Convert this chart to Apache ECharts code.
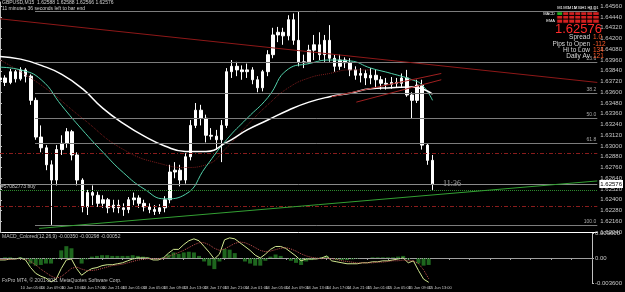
<!DOCTYPE html>
<html>
<head>
<meta charset="utf-8">
<script src="https://cdn.jsdelivr.net/npm/echarts@6/dist/echarts.min.js"></script>
<style>
html,body{margin:0;padding:0;background:#000;overflow:hidden}
#chart{width:625px;height:292px}
</style>
</head>
<body>
<div id="chart"></div>
<script>
// ---------- data ----------
const tickLabels = ['10 Jun 2011','10 Jun 05:00','10 Jun 09:00','10 Jun 13:00','10 Jun 17:00','10 Jun 21:00',
  '13 Jun 01:00','13 Jun 05:00','13 Jun 09:00','13 Jun 13:00','13 Jun 17:00','13 Jun 21:00',
  '14 Jun 01:00','14 Jun 05:00','14 Jun 09:00','14 Jun 13:00','14 Jun 17:00','14 Jun 21:00',
  '15 Jun 01:00','15 Jun 05:00','15 Jun 09:00','15 Jun 13:00'];

// hourly bars (GBPUSD)
const barOpen = [1.6374,1.6376,1.6371,1.6383,1.6375,1.6385,1.6378,1.6351,1.6310,1.6298,
  1.6279,1.6262,1.6296,1.6303,1.6316,1.6290,1.6262,1.6232,1.6248,1.6245,
  1.6236,1.6240,1.6231,1.6234,1.6231,1.6229,1.6240,1.6242,1.6236,1.6232,
  1.6229,1.6227,1.6231,1.6240,1.6271,1.6273,1.6262,1.6288,1.6323,1.6340,
  1.6331,1.6312,1.6311,1.6307,1.6323,1.6383,1.6389,1.6385,1.6383,1.6385,
  1.6374,1.6365,1.6383,1.6402,1.6424,1.6427,1.6423,1.6441,1.6418,1.6394,
  1.6394,1.6407,1.6413,1.6402,1.6418,1.6398,1.6389,1.6396,1.6393,1.6385,
  1.6379,1.6381,1.6376,1.6379,1.6374,1.6370,1.6369,1.6371,1.6370,1.6376,
  1.6357,1.6351,1.6368,1.6301,1.6284];
const barClose = [1.6376,1.6371,1.6383,1.6375,1.6385,1.6378,1.6351,1.6310,1.6298,1.6279,
  1.6262,1.6296,1.6303,1.6316,1.6290,1.6262,1.6232,1.6248,1.6245,1.6236,
  1.6240,1.6231,1.6234,1.6231,1.6229,1.6240,1.6242,1.6236,1.6232,1.6229,
  1.6227,1.6231,1.6240,1.6271,1.6273,1.6262,1.6288,1.6323,1.6340,1.6331,
  1.6312,1.6311,1.6307,1.6323,1.6383,1.6389,1.6385,1.6383,1.6385,1.6374,
  1.6365,1.6383,1.6402,1.6424,1.6427,1.6423,1.6441,1.6418,1.6394,1.6393,
  1.6407,1.6413,1.6402,1.6418,1.6398,1.6389,1.6396,1.6393,1.6385,1.6379,
  1.6381,1.6376,1.6379,1.6374,1.6370,1.6369,1.6371,1.6370,1.6376,1.6357,
  1.6351,1.6368,1.6301,1.6284,1.62576];
const barLow = [1.6369,1.6367,1.6369,1.6371,1.6373,1.6371,1.6346,1.6307,1.6293,1.6273,
  1.6212,1.6256,1.6290,1.6298,1.6284,1.6256,1.6226,1.6223,1.6234,1.6232,
  1.6231,1.6225,1.6226,1.6225,1.6222,1.6225,1.6234,1.6231,1.6227,1.6225,
  1.6223,1.6224,1.6226,1.6236,1.6264,1.6255,1.6258,1.6284,1.6320,1.6323,
  1.6304,1.6307,1.6296,1.6282,1.6320,1.6376,1.6378,1.6374,1.6376,1.6369,
  1.6360,1.6361,1.6378,1.6398,1.6416,1.6413,1.6418,1.6413,1.6389,1.6387,
  1.6392,1.6396,1.6396,1.6394,1.6394,1.6383,1.6385,1.6387,1.6378,1.6374,
  1.6371,1.6368,1.6369,1.6365,1.6363,1.6363,1.6364,1.6365,1.6366,1.6355,
  1.6331,1.6348,1.6296,1.6279,1.6251];
const barHigh = [1.6379,1.6379,1.6386,1.6385,1.6388,1.6387,1.6380,1.6354,1.6323,1.6301,
  1.6284,1.6301,1.6312,1.6320,1.6318,1.6293,1.6264,1.6251,1.6256,1.6249,
  1.6245,1.6242,1.6240,1.6240,1.6236,1.6243,1.6248,1.6245,1.6240,1.6236,
  1.6234,1.6235,1.6244,1.6279,1.6282,1.6279,1.6292,1.6329,1.6348,1.6346,
  1.6335,1.6320,1.6318,1.6329,1.6387,1.6396,1.6394,1.6390,1.6392,1.6388,
  1.6378,1.6385,1.6407,1.6432,1.6433,1.6432,1.6446,1.6448,1.6450,1.6402,
  1.6413,1.6424,1.6427,1.6424,1.6435,1.6402,1.6402,1.6399,1.6398,1.6389,
  1.6387,1.6385,1.6387,1.6385,1.6378,1.6376,1.6377,1.6376,1.6381,1.6385,
  1.6360,1.6374,1.6374,1.6303,1.6290];

// moving averages (hour, price)
const whiteHours = [0,4,8,12,16,20,24,28,32,36,40,44,48,52,56,60,64,68,72,76,80,84];
const whiteMA = [1.6400,1.6397,1.6390,1.6380,1.6364,1.6342,1.6325,1.6311,1.6300,1.6294,1.6294,
  1.6304,1.6318,1.6329,1.6340,1.6349,1.6355,1.6359,1.6364,1.6365,1.6366,1.6358];
const tealHours = [0,4,8,12,16,20,24,28,32,36,40,44,48,52,56,60,64,68,72,76,80,82,84];
const tealMA = [1.6388,1.6385,1.6374,1.6345,1.6318,1.6293,1.6270,1.6252,1.6241,1.6246,1.6277,
  1.6307,1.6331,1.6354,1.6386,1.6392,1.6396,1.6395,1.6387,1.6381,1.6374,1.6368,1.6351];
const darkHours = [0,8,16,24,32,36,40,44,48,52,56,60,64,68,72];
const darkMA = [1.6396,1.6368,1.6331,1.6296,1.6279,1.6276,1.6279,1.6298,1.6323,1.6346,1.6365,
  1.6376,1.6381,1.6385,1.6385];

// drawn objects: anchors as [hour, price]
const resistA = [[24.6,1.6463],[116,1.6418]];
const resistB = [[0,1.6442],[116,1.6371]];
const paleDotted = [[11,1.6394],[81.5,1.6463]];
const redDotted = [[6.5,1.6212],[38.3,1.6463]];
const greenTrend = [[7.6,1.6208],[116,1.6261]];
const channel1 = [[64.4,1.6355],[85.7,1.6381]];
const channel2 = [[69.2,1.6349],[85.7,1.6374]];
const fibHigh = 1.6450, fibLow = 1.6212, fibStartHour = 6.8;
const fibRatios = [0, 23.6, 38.2, 50.0, 61.8, 100.0];
const stopLevels = [1.6292, 1.6233];
const buyLevel = 1.6251;
const lastPrice = 1.62576;

// MACD window
const macdMain = [-0.00028,-0.00028,-0.00014,-0.00014,0,-0.00028,-0.00138,-0.00221,-0.00262,-0.00290,
  -0.00345,-0.00304,-0.00152,-0.00028,-0.00014,-0.00152,-0.00248,-0.00193,-0.00152,-0.00138,
  -0.00110,-0.00097,-0.00097,-0.00083,-0.00069,-0.00041,-0.00014,0,0,0,
  -0.00028,-0.00028,0,0.00069,0.00124,0.00124,0.00193,0.00248,0.00276,0.00248,
  0.00166,0.00083,-0.00014,0.00055,0.00262,0.00290,0.00276,0.00221,0.00166,0.00110,
  0.00041,0,0.00055,0.00124,0.00166,0.00166,0.00138,0.00083,0.00028,-0.00041,
  -0.00014,-0.00014,-0.00014,0,0.00028,-0.00041,-0.00055,-0.00069,-0.00083,-0.00083,
  -0.00083,-0.00069,-0.00069,-0.00055,-0.00055,-0.00041,-0.00041,-0.00028,-0.00014,0,
  -0.00069,-0.00041,-0.00179,-0.00304,-0.00350];
const macdSignal = [-0.0002,-0.0002,-0.0002,-0.0001,-0.0001,-0.0001,-0.0005,-0.0010,-0.0016,-0.0021,
  -0.0026,-0.0029,-0.0027,-0.0021,-0.0015,-0.0013,-0.0016,-0.0018,-0.0018,-0.0017,
  -0.0015,-0.0013,-0.0011,-0.0010,-0.0009,-0.0007,-0.0005,-0.0003,-0.0002,-0.0001,
  -0.0001,-0.0001,-0.0001,0.0002,0.0005,0.0008,0.0011,0.0015,0.0019,0.0022,
  0.0022,0.0019,0.0014,0.0011,0.0013,0.0017,0.0021,0.0023,0.0022,0.0019,
  0.0015,0.0011,0.0009,0.0010,0.0012,0.0014,0.0015,0.0013,0.0010,0.0006,
  0.0003,0.0001,0,-0.0001,0,-0.0001,-0.0002,-0.0004,-0.0005,-0.0006,
  -0.0007,-0.0007,-0.0007,-0.0007,-0.0006,-0.0006,-0.0005,-0.0004,-0.0004,-0.0003,
  -0.0004,-0.0004,-0.0008,-0.0017,-0.00298];
const macdHist = [0,0.0001,0.0001,0,0.0001,-0.0001,-0.0008,-0.0011,-0.0010,-0.0008,
  -0.0008,-0.0001,0.0011,0.0017,0.0014,0,-0.0008,-0.0002,0.0002,0.0003,
  0.0004,0.0004,0.0003,0.0003,0.0003,0.0003,0.0004,0.0003,0.0002,0.0001,
  -0.0001,-0.0001,0.0001,0.0005,0.0008,0.0006,0.0008,0.0009,0.0008,0.0003,
  -0.0005,-0.0011,-0.0016,-0.0005,0.0013,0.0012,0.0007,0,-0.0005,-0.0008,
  -0.0011,-0.0011,-0.0004,0.0002,0.0005,0.0003,0,-0.0004,-0.0007,-0.0010,
  -0.0005,-0.0003,-0.0001,0.0001,0.0003,0,-0.0003,-0.0003,-0.0003,-0.0002,
  -0.0001,0,0,0.0001,0.0001,0.0001,0.0001,0.0001,0.0002,0.0003,
  -0.0002,0,-0.0008,-0.0011,-0.0010];

// info panel
const panelCols = ['M1','M5','M15','M30','H1','H4','D1'];
const panelRows = ['MACD','STR','EMA'];
const panelState = [[1,0,0,0,0,0,0],[0,0,0,0,0,0,0],[0,0,0,0,0,0,0]];
const infoLabels = ['Spread','Pips to Open','Hi to Low','Daily Av'];
const infoValues = ['1.0','-112','134','121'];
const headerText = 'GBPUSD,M15  1.62588 1.62588 1.62566 1.62576';
const timerText = '11 minutes 36 seconds left to bar end';
const macdTitle = 'MACD_Colored(12,26,9) -0.00350 -0.00298 -0.00052';
const copyright = 'FxPro MT4, \u00A9 2001-2011 MetaQuotes Software Corp.';
const orderLabel = '#57082773 buy';
const barTimer = '11:36';

// ---------- build chart ----------
const FONT = 'Liberation Sans';
const nCats = 117;
const cats = Array.from({length: nCats}, (_, i) => 'h' + i);
const candles = barOpen.map((o, i) => [o, barClose[i], barLow[i], barHigh[i]]);
const pairs = (xs, ys) => xs.map((x, i) => [x, ys[i]]);
const fibLevels = fibRatios.map(r => fibHigh - r / 100 * (fibHigh - fibLow));
const heatData = [];
panelState.forEach((row, r) => row.forEach((v, c) => heatData.push([c, r, v])));

function txt(text, pos, size, color, extra) {
  return Object.assign({text: text, padding: 0, itemGap: 0,
    textStyle: {fontSize: size, color: color, fontWeight: 'normal', fontFamily: FONT}}, pos, extra || {});
}
function seg(a, style) {
  return [{coord: a[0], lineStyle: style}, {coord: a[1]}];
}

const titles = [
  txt(headerText, {left: 2, top: 0}, 5, '#d0d0d0'),
  txt(timerText, {left: 2, top: 6}, 5, '#d0d0d0'),
  txt(lastPrice.toFixed(5), {left: 555, top: 23}, 13, '#ff2a2a'),
  txt(macdTitle, {left: 2, top: 234}, 5, '#c0c0c0'),
  txt(copyright, {left: 2, top: 278}, 5, '#c0c0c0')
];
infoLabels.forEach((t, i) => {
  titles.push(txt(t, {right: 35, top: 34 + i * 6.3}, 6.5, '#d8d8d8'));
  titles.push(txt(infoValues[i], {left: 593, top: 34 + i * 6.3}, 6.5, '#ff5a28'));
});

const markData = [];
fibLevels.forEach((lv, i) => {
  markData.push([{coord: [fibStartHour, lv], lineStyle: {color: '#7c7c7c', width: 1, type: 'solid'},
    label: {show: true, position: 'insideEndTop', formatter: fibRatios[i].toFixed(1), fontSize: 5, color: '#a8a8a8', distance: 1}},
    {coord: [116, lv]}]);
});
stopLevels.forEach(lv => markData.push({yAxis: lv, lineStyle: {color: '#8a1c1c', width: 1, type: [4, 2, 1, 2]}, label: {show: false}}));
markData.push({yAxis: buyLevel, lineStyle: {color: '#2e8a2e', width: 1, type: 'dotted'},
  label: {show: true, position: 'insideStartTop', formatter: orderLabel, fontSize: 5, color: '#c8c8c8', distance: 1}});
markData.push({yAxis: lastPrice, lineStyle: {color: '#8a8a8a', width: 1, type: 'solid'},
  label: {show: true, position: 'end', formatter: lastPrice.toFixed(5), backgroundColor: '#ffffff', color: '#000', fontSize: 6, padding: [1, 1], distance: 2}});
markData.push(seg(resistA, {color: '#8e1818', width: 1, type: 'solid'}));
markData.push(seg(resistB, {color: '#8e1818', width: 1, type: 'solid'}));
markData.push(seg(paleDotted, {color: '#8c8c64', width: 1, type: 'dotted'}));
markData.push(seg(redDotted, {color: '#8e2020', width: 1, type: 'dotted'}));
markData.push(seg(greenTrend, {color: '#33a033', width: 1, type: 'solid'}));
markData.push(seg(channel1, {color: '#a02020', width: 1, type: 'solid'}));
markData.push(seg(channel2, {color: '#a02020', width: 1, type: 'solid'}));

const option = {
  backgroundColor: '#000',
  animation: false,
  title: titles,
  grid: [
    {left: 0, top: 2, width: 612, height: 230},
    {left: 0, top: 233, width: 612, height: 50},
    {left: 557, top: 12, width: 42, height: 11}
  ],
  xAxis: [
    {type: 'category', gridIndex: 0, data: cats, boundaryGap: false,
      axisLine: {lineStyle: {color: '#ffffff', width: 1}}, axisTick: {show: false}, axisLabel: {show: false}, splitLine: {show: false}},
    {type: 'value', gridIndex: 0, min: 0, max: 116, show: false},
    {type: 'category', gridIndex: 1, data: cats, boundaryGap: false,
      axisLine: {lineStyle: {color: '#a0a0a0'}},
      axisTick: {show: true, interval: 3, length: 2, lineStyle: {color: '#a0a0a0'}},
      axisLabel: {interval: 3, fontSize: 4, color: '#c8c8c8', align: 'left', margin: 3, fontFamily: FONT,
        formatter: (v, i) => tickLabels[i / 4] || ''},
      splitLine: {show: false}},
    {type: 'category', gridIndex: 2, data: panelCols, position: 'top',
      axisLine: {show: false}, axisTick: {show: false}, axisLabel: {fontSize: 4, color: '#ffffff', margin: 2, interval: 0, fontFamily: FONT}}
  ],
  yAxis: [
    {type: 'value', gridIndex: 0, position: 'right', min: 1.6204, max: 1.64608, interval: 0.0012,
      axisLine: {show: true, lineStyle: {color: '#c0c0c0'}}, axisTick: {show: true, length: 2, lineStyle: {color: '#c0c0c0'}},
      axisLabel: {fontSize: 6, color: '#c8c8c8', margin: 3, fontFamily: FONT, formatter: v => v.toFixed(5)},
      splitLine: {show: false}},
    {type: 'value', gridIndex: 1, position: 'right', min: -0.0036, max: 0.0036, interval: 0.0036,
      axisLine: {show: true, lineStyle: {color: '#c0c0c0'}}, axisTick: {show: true, length: 2, lineStyle: {color: '#c0c0c0'}},
      axisLabel: {fontSize: 6, color: '#c8c8c8', margin: 3, fontFamily: FONT, formatter: v => v === 0 ? '0.00' : v.toFixed(6)},
      splitLine: {show: false}},
    {type: 'category', gridIndex: 2, data: panelRows, inverse: true,
      axisLine: {show: false}, axisTick: {show: false}, axisLabel: {fontSize: 4, color: '#ffffff', margin: 2, fontFamily: FONT}}
  ],
  visualMap: {show: false, type: 'piecewise', seriesIndex: 8,
    pieces: [{value: 0, color: '#d42020'}, {value: 1, color: '#22b022'}]},
  series: [
    {type: 'candlestick', xAxisIndex: 0, yAxisIndex: 0, data: candles, barWidth: 3,
      itemStyle: {color: '#ffffff', color0: '#ffffff', borderColor: '#ffffff', borderColor0: '#ffffff', borderWidth: 1}},
    {type: 'line', xAxisIndex: 1, yAxisIndex: 0, data: pairs(darkHours, darkMA), symbol: 'none', smooth: true,
      lineStyle: {color: '#7a1c1c', width: 1, type: 'dotted'}},
    {type: 'line', xAxisIndex: 1, yAxisIndex: 0, data: pairs(tealHours, tealMA), symbol: 'none', smooth: true,
      lineStyle: {color: '#52d0aa', width: 1}},
    {type: 'line', xAxisIndex: 1, yAxisIndex: 0, data: pairs(whiteHours, whiteMA), symbol: 'none', smooth: true,
      lineStyle: {color: '#ffffff', width: 1.5},
      markLine: {symbol: 'none', silent: true, animation: false, precision: 6, data: markData}},
    {type: 'scatter', xAxisIndex: 1, yAxisIndex: 0, data: [[barOpen.length - 1, lastPrice]], symbolSize: 1,
      itemStyle: {color: '#000'},
      label: {show: true, position: 'right', distance: 10, formatter: barTimer, color: '#d0d0d0', fontSize: 8, fontFamily: 'Liberation Serif'}},
    {type: 'bar', xAxisIndex: 2, yAxisIndex: 1, data: macdHist, barWidth: 4, itemStyle: {color: '#1e661e'}},
    {type: 'line', xAxisIndex: 2, yAxisIndex: 1, data: macdMain, symbol: 'none',
      lineStyle: {color: '#d2e890', width: 1}},
    {type: 'line', xAxisIndex: 2, yAxisIndex: 1, data: macdSignal, symbol: 'none',
      lineStyle: {color: '#c05050', width: 1, type: 'dotted'},
      markLine: {symbol: 'none', silent: true, animation: false, precision: 6,
        data: [{yAxis: 0, lineStyle: {color: '#a0a0a0', type: 'dotted', width: 1}, label: {show: false}}]}},
    {type: 'heatmap', xAxisIndex: 3, yAxisIndex: 2, data: heatData, itemStyle: {borderColor: '#000', borderWidth: 1}}
  ]
};
const chart = echarts.init(document.getElementById('chart'), null, {renderer: 'canvas'});
chart.setOption(option);
</script>
</body>
</html>
